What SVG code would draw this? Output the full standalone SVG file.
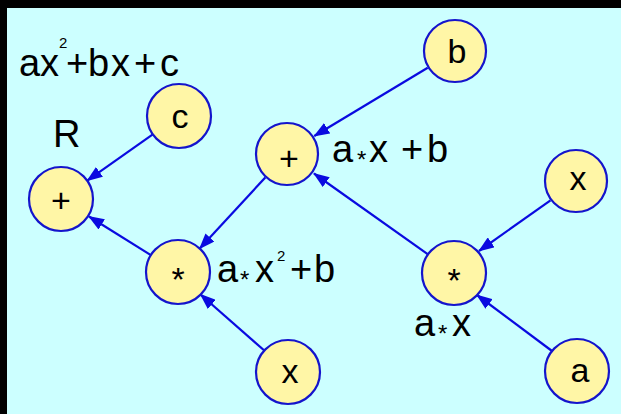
<svg xmlns="http://www.w3.org/2000/svg" width="621" height="414" viewBox="0 0 621 414">
<style>
.node circle{fill:#FFF6A6;stroke:#1414CC;stroke-width:2.2}
.t{font-family:"Liberation Sans",Arial,sans-serif;fill:#000}
.lbl{font-size:38px}
.nt{font-size:34px;text-anchor:middle}
.edge{stroke:#0A0AE0;stroke-width:2.2;fill:none;marker-end:url(#ah)}
</style>
<defs>
<marker id="ah" viewBox="0 0 16 12" refX="15" refY="6" markerWidth="16" markerHeight="12" markerUnits="userSpaceOnUse" orient="auto">
<path d="M0,0 L16,6 L0,12 Z" fill="#0A0AE0"/>
</marker>
</defs>
<rect x="0" y="0" width="621" height="414" fill="#000"/>
<rect x="7" y="8" width="614" height="406" fill="#CCFFFF"/>

<g id="connectors">
<line class="edge" x1="152.8" y1="134.4" x2="87.2" y2="180.6"/>
<line class="edge" x1="150.9" y1="255.1" x2="89" y2="216.5"/>
<line class="edge" x1="265.3" y1="177.5" x2="199.7" y2="248.5"/>
<line class="edge" x1="427.7" y1="67.7" x2="314.3" y2="136"/>
<line class="edge" x1="428" y1="254.4" x2="314" y2="173.5"/>
<line class="edge" x1="550.5" y1="200.3" x2="479" y2="251"/>
<line class="edge" x1="552" y1="351" x2="477" y2="295"/>
<line class="edge" x1="264.3" y1="350.5" x2="200.5" y2="294.5"/>
</g>

<g id="node-root" class="node"><circle cx="61" cy="199" r="32"/><text class="t nt" x="61" y="212" font-size="38">+</text></g>
<g id="node-c" class="node"><circle cx="179" cy="116" r="32"/><text class="t nt" x="180" y="128" font-size="36">c</text></g>
<g id="node-plus" class="node"><circle cx="287" cy="154" r="31"/><text class="t nt" x="289" y="170" font-size="38">+</text></g>
<g id="node-b" class="node"><circle cx="455" cy="51" r="31"/><text class="t nt" x="457" y="63">b</text></g>
<g id="node-x1" class="node"><circle cx="576" cy="181" r="31"/><text class="t nt" x="578" y="190" font-size="36">x</text></g>
<g id="node-mul-left" class="node"><circle cx="178" cy="272" r="32"/><text class="t nt" x="178" y="291" font-size="34">*</text></g>
<g id="node-mul-right" class="node"><circle cx="454" cy="273" r="32"/><text class="t nt" x="454" y="292" font-size="34">*</text></g>
<g id="node-x2" class="node"><circle cx="288" cy="372" r="32"/><text class="t nt" x="290" y="383" font-size="36">x</text></g>
<g id="node-a" class="node"><circle cx="577" cy="371" r="32"/><text class="t nt" x="580" y="382" font-size="36">a</text></g>

<g id="labels">
<text class="t lbl" y="76"><tspan x="19">a</tspan><tspan x="40">x</tspan><tspan x="59" dy="-28" font-size="15">2</tspan><tspan x="66" dy="28">+</tspan><tspan x="88">b</tspan><tspan x="111">x</tspan><tspan x="134">+</tspan><tspan x="160">c</tspan></text>
<text class="t lbl" x="53" y="147">R</text>
<text class="t lbl" y="162"><tspan x="332">a</tspan><tspan x="357" dy="6" font-size="24">*</tspan><tspan x="369" dy="-6">x</tspan><tspan x="401">+</tspan><tspan x="427">b</tspan></text>
<text class="t lbl" y="282"><tspan x="217">a</tspan><tspan x="240" dy="6" font-size="24">*</tspan><tspan x="255" dy="-6">x</tspan><tspan x="277" dy="-21" font-size="15">2</tspan><tspan x="290" dy="21">+</tspan><tspan x="314">b</tspan></text>
<text class="t lbl" y="336"><tspan x="414">a</tspan><tspan x="438" dy="6" font-size="24">*</tspan><tspan x="452" dy="-6">x</tspan></text>
</g>
</svg>
